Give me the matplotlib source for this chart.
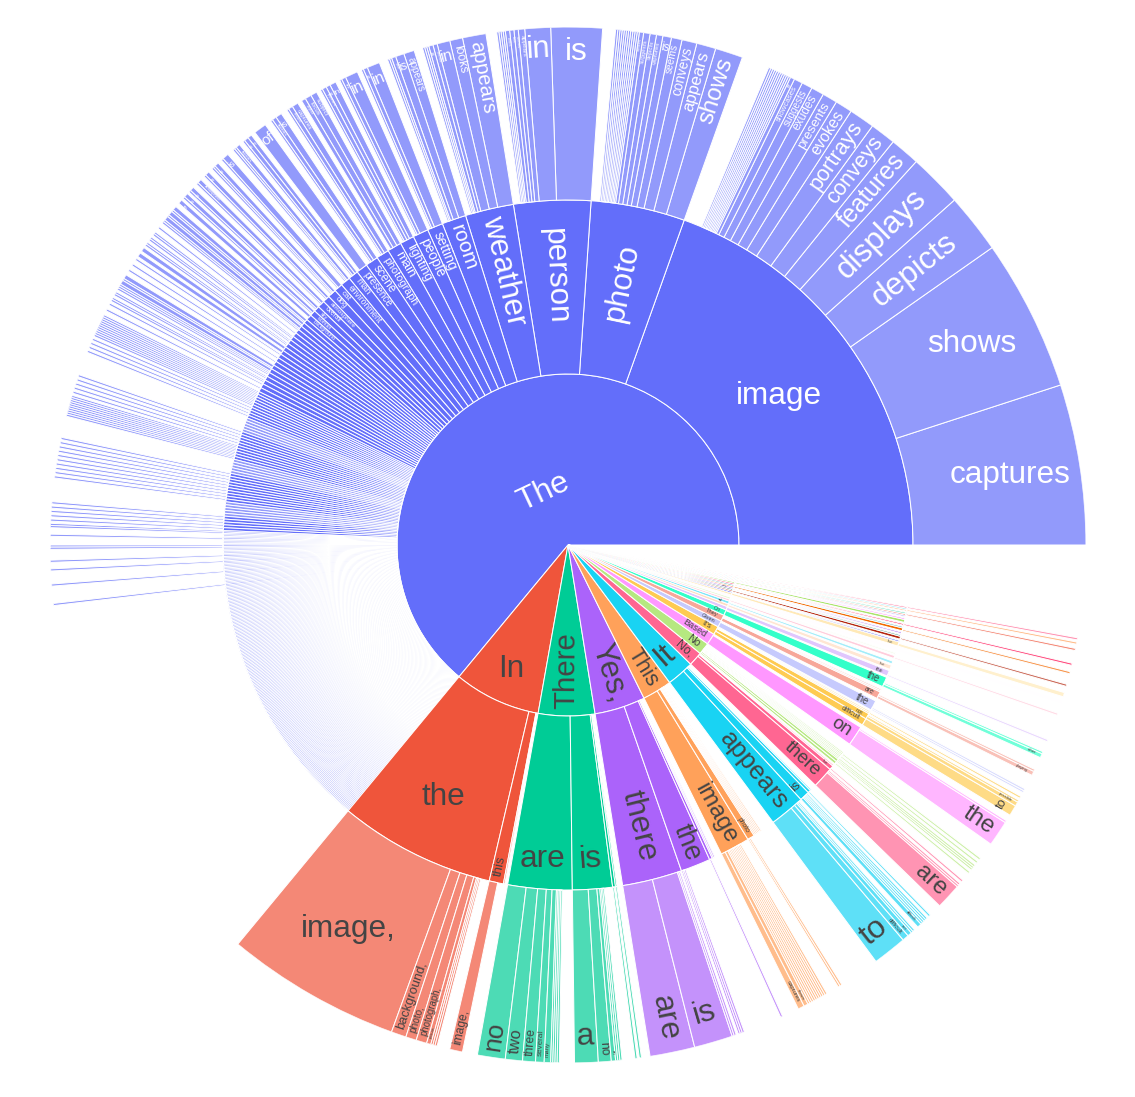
"""Sunburst of the first three words of generated image descriptions."""

import colorsys

import matplotlib
matplotlib.use("Agg")
import matplotlib.pyplot as plt
import numpy as np
from matplotlib.colors import to_rgb
from matplotlib.font_manager import FontProperties
from matplotlib.textpath import text_to_path

# ---------------------------------------------------------------- data
TOTAL = 1500  # all answers (the unlabelled rest is the empty wedge)

root_labels = ["The", "In", "There", "Yes,", "This", "It", "No,", "No",
               "Based", "It's", "Given", "They", "On"]
root_vals = [960, 123, 80, 72, 42, 39, 20, 17, 16, 12, 9, 9, 8]

tiny_root_labels = ["As", "Sure,", "A", "Unfortunately,", "From", "Looking",
                    "Due", "Judging", "While", "Although", "Without", "I",
                    "To", "Currently,", "At", "According", "We", "You",
                    "Upon", "Considering", "Observing", "Examining", "Two",
                    "Several"]
tiny_root_vals = [5, 4, 4, 3, 3, 3, 3, 2, 2, 2, 2, 2, 2, 2, 2,
                  1, 1, 1, 1, 1, 1, 1, 1, 1]
tiny_root_kid_vals = [4, 3, 2, 2, 1, 2, 3, 1, 2, 1, 1, 2, 1, 1, 2,
                      1, 0, 1, 1, 1, 0, 1, 1, 1]
tiny_root_grandkid_vals = [1, 0, 0, 1, 0, 1, 2, 0, 1, 0, 0, 1, 0, 1, 0,
                           0, 0, 0, 1, 0, 0, 1, 0, 1]

# "The ..." second words
the_w2 = ["image", "photo", "person", "weather", "room", "setting", "people",
          "lighting", "main", "photograph", "scene", "presence", "man",
          "environment", "cat", "dog", "atmosphere", "overall", "sky",
          "woman", "background"]
the_w2_vals = [293, 66, 54, 34, 17, 11, 11, 10, 10, 9, 9, 8, 7, 7, 6, 6,
               5, 5, 4, 4, 4]

the_image_w3 = ["captures", "shows", "depicts", "displays", "features",
                "conveys", "portrays", "evokes", "presents", "exudes",
                "suggests", "showcases", "is", "gives", "reveals",
                "highlights", "illustrates", "contains", "offers", "provides",
                "seems", "appears", "creates", "includes"]
the_image_w3_vals = [75, 71, 28, 25, 14, 12, 12, 8, 7, 6, 5, 4, 2,
                     1, 1, 1, 1, 1, 1, 1, 1, 1, 1, 1]
the_photo_w3 = ["shows", "appears", "conveys", "seems", "is", "captures",
                "depicts", "suggests", "evokes", "features", "displays",
                "was", "has", "portrays", "presents", "looks", "exudes",
                "reveals", "gives", "showcases"]
the_photo_w3_vals = [13, 9, 7, 5, 4, 3, 3, 3, 2, 1, 1, 1, 1, 1, 1, 1, 1,
                     1, 1, 1]
the_person_w3 = ["is", "in", "appears", "seems", "has", "looks", "wearing",
                 "standing", "sitting", "holding"]
the_person_w3_vals = [24, 12, 3, 2, 2, 2, 1, 1, 1, 1]
the_weather_w3 = ["appears", "looks", "in", "seems", "is", "conditions",
                  "during", "at"]
the_weather_w3_vals = [11, 6, 6, 2, 2, 1, 1, 1]
the_mid_w3 = [["appears", "is", "has", "in", "seems"], ["in", "is", "appears"],
              ["in", "are", "appear"], ["in", "is", "appears", "and"],
              ["subject", "focus", "object"], ["captures", "shows", "is"],
              ["is", "appears", "depicts"], ["of"], ["in", "is", "appears"],
              ["appears", "is", "in"], ["is", "in"], ["is", "in", "appears"],
              ["is", "in"], ["atmosphere", "mood"], ["is", "appears"],
              ["is", "in"], ["of"]]
the_mid_w3_vals = [[5, 4, 2, 1, 1], [6, 2, 1], [6, 2, 1], [3, 2, 2, 1],
                   [3, 3, 2], [3, 2, 1], [3, 2, 1], [6], [2, 2, 1], [2, 1, 1],
                   [3, 1], [2, 1, 1], [2, 1], [2, 1], [2, 1], [2, 1], [2]]
# long tail of rare second words: size, how many, their third-word counts
the_tail_size = [3, 3, 3, 3, 3, 3, 3, 3,
                 2, 2, 2, 2, 2, 2, 2, 2, 2, 2,
                 1, 1, 1, 1, 1, 1, 1, 1, 1, 1, 1, 1, 1, 1]
the_tail_count = [3, 2, 3, 2, 3, 2, 3, 2,
                  5, 5, 5, 5, 5, 5, 5, 5, 5, 5,
                  2, 3, 1, 4, 2, 5, 1, 3, 1, 6, 1, 8, 1, 182]
the_tail_kids = [[2, 1], [1], [1, 1], [2], [1], [2, 1], [1, 1], [1],
                 [1, 1], [1], [], [1], [1, 1], [], [1], [1], [], [1],
                 [1], [], [1], [], [1], [], [1], [], [1], [], [1], [], [1], []]

in_w2 = ["the", "this", "a"]
in_w2_vals = [110, 10, 1]
in_the_w3 = ["image,", "background,", "photo,", "photograph,", "picture,",
             "scene,", "room,", "image"]
in_the_w3_vals = [82, 7, 5, 5, 2, 1, 1, 1]
in_this_w3 = ["image,"]
in_this_w3_vals = [6]

there_w2 = ["are", "is", "was", "appears"]
there_w2_vals = [45, 28, 2, 1]
there_are_w3 = ["no", "two", "three", "several", "many", "four", "multiple",
                "some", "a"]
there_are_w3_vals = [13, 8, 6, 4, 3, 1, 1, 1, 1]
there_is_w3 = ["a", "no", "an", "one", "only", "something"]
there_is_w3_vals = [11, 6, 2, 1, 1, 1]

yes_w2 = ["there", "the", "this", "it", "a"]
yes_w2_vals = [42, 21, 2, 1, 1]
yes_there_w3 = ["are", "is", "appears", "seems"]
yes_there_w3_vals = [21, 18, 1, 1]
yes_the_w3 = ["image", "person", "photo"]
yes_the_w3_vals = [1, 1, 1]

this_w2 = ["image", "photo", "picture", "is", "scene", "photograph",
           "appears", "shows"]
this_w2_vals = [21, 5, 1, 1, 1, 1, 1, 1]
this_image_w3 = ["captures", "shows", "depicts", "is", "features", "appears",
                 "displays", "showcases", "portrays", "conveys", "presents",
                 "has"]
this_image_w3_vals = [3, 2, 1, 1, 1, 1, 1, 1, 1, 1, 1, 1]
this_photo_w3 = ["shows", "captures"]
this_photo_w3_vals = [1, 1]

it_w2 = ["appears", "is", "seems", "looks"]
it_w2_vals = [25, 7, 2, 1]
it_appears_w3 = ["to", "difficult", "not", "that", "like"]
it_appears_w3_vals = [16, 3, 2, 1, 1]
it_is_w3 = ["difficult", "not", "a", "possible", "unclear"]
it_is_w3_vals = [2, 1, 1, 1, 1]

noc_w2 = ["there", "the", "it"]
noc_w2_vals = [15, 3, 1]
noc_there_w3 = ["are", "is", "aren't"]
noc_there_w3_vals = [12, 1, 1]

no_w2 = ["the", "there", "it", "this", "image", "person", "dogs", "cats"]
no_w2_vals = [2, 2, 1, 1, 1, 1, 1, 1]
no_w3 = [["image"], ["are", "is"], ["is"], [], ["is"], [], ["are"], []]
no_w3_vals = [[1], [1, 1], [1], [], [1], [], [1], []]

based_w2, based_w2_vals = ["on"], [14]
based_on_w3, based_on_w3_vals = ["the", "this"], [12, 1]
its_w2 = ["difficult", "not", "hard", "impossible"]
its_w2_vals = [5, 4, 1, 1]
its_w3 = [["to"], ["possible", "clear"], ["to"], []]
its_w3_vals = [[5], [2, 1], [1], []]
given_w2, given_w2_vals = ["the"], [7]
given_the_w3, given_the_w3_vals = ["image", "lack"], [1, 1]
they_w2, they_w2_vals = ["are", "appear", "seem"], [5, 1, 1]
they_are_w3, they_are_w3_vals = ["playing", "sitting"], [2, 1]
on_w2, on_w2_vals = ["the"], [7]
on_the_w3, on_the_w3_vals = ["other", "left"], [2, 1]

# ---------------------------------------------------------------- style
RADII = [0, 171, 345, 518]          # ring edges, px
CENTER = (568, 545)                 # px from top-left
W_PX, H_PX = 1135, 1097
FMAX = 31.5                         # px
TEXT_H = 1.0                        # text box height in em
PAD = 3.0
BASE = ["#636efa", "#EF553B", "#00cc96", "#ab63fa", "#FFA15A",
        "#19d3f3", "#FF6692", "#B6E880", "#FF97FF", "#FECB52"]
FONT = "Liberation Sans"


def shift(c, amt):
    h, l, s = colorsys.rgb_to_hls(*to_rgb(c))
    return colorsys.hls_to_rgb(h, min(1, max(0, l + amt)), s)


PALETTE = ([to_rgb(c) for c in BASE] + [shift(c, 0.2) for c in BASE]
           + [shift(c, -0.2) for c in BASE])


def node(label, value, kids=()):
    return {"label": label, "value": value, "kids": [k for k in kids if k["value"] > 0]}


def leaves(labels, vals):
    return [node(l, v) for l, v in zip(labels, vals)]


def branch(labels, vals, sub):
    return [node(l, v, sub.get(l, [])) for l, v in zip(labels, vals)]


# ---------------------------------------------------------------- tree
the_third = [leaves(the_image_w3, the_image_w3_vals),
             leaves(the_photo_w3, the_photo_w3_vals),
             leaves(the_person_w3, the_person_w3_vals),
             leaves(the_weather_w3, the_weather_w3_vals)]
the_third += [leaves(l, v) for l, v in zip(the_mid_w3, the_mid_w3_vals)]
the_kids = [node(l, v, k) for l, v, k in zip(the_w2, the_w2_vals, the_third)]
for size, count, kids in zip(the_tail_size, the_tail_count, the_tail_kids):
    for _ in range(count):
        the_kids.append(node("", size, [node("", k) for k in kids]))

children = {
    "The": the_kids,
    "In": branch(in_w2, in_w2_vals, {"the": leaves(in_the_w3, in_the_w3_vals),
                                     "this": leaves(in_this_w3, in_this_w3_vals)}),
    "There": branch(there_w2, there_w2_vals,
                    {"are": leaves(there_are_w3, there_are_w3_vals),
                     "is": leaves(there_is_w3, there_is_w3_vals),
                     "was": leaves(["a"], [1]), "appears": leaves(["to"], [1])}),
    "Yes,": branch(yes_w2, yes_w2_vals,
                   {"there": leaves(yes_there_w3, yes_there_w3_vals),
                    "the": leaves(yes_the_w3, yes_the_w3_vals),
                    "this": leaves(["image"], [1])}),
    "This": branch(this_w2, this_w2_vals,
                   {"image": leaves(this_image_w3, this_image_w3_vals),
                    "photo": leaves(this_photo_w3, this_photo_w3_vals)}),
    "It": branch(it_w2, it_w2_vals,
                 {"appears": leaves(it_appears_w3, it_appears_w3_vals),
                  "is": leaves(it_is_w3, it_is_w3_vals),
                  "seems": leaves(["to"], [1])}),
    "No,": branch(noc_w2, noc_w2_vals,
                  {"there": leaves(noc_there_w3, noc_there_w3_vals),
                   "the": leaves(["image"], [1])}),
    "No": [node(l, v, leaves(kl, kv)) for l, v, kl, kv
           in zip(no_w2, no_w2_vals, no_w3, no_w3_vals)],
    "Based": branch(based_w2, based_w2_vals,
                    {"on": leaves(based_on_w3, based_on_w3_vals)}),
    "It's": [node(l, v, leaves(kl, kv)) for l, v, kl, kv
             in zip(its_w2, its_w2_vals, its_w3, its_w3_vals)],
    "Given": branch(given_w2, given_w2_vals,
                    {"the": leaves(given_the_w3, given_the_w3_vals)}),
    "They": branch(they_w2, they_w2_vals,
                   {"are": leaves(they_are_w3, they_are_w3_vals)}),
    "On": branch(on_w2, on_w2_vals, {"the": leaves(on_the_w3, on_the_w3_vals)}),
}

roots = [node(l, v, children.get(l, [])) for l, v in zip(root_labels, root_vals)]
for l, v, k, g in zip(tiny_root_labels, tiny_root_vals, tiny_root_kid_vals,
                      tiny_root_grandkid_vals):
    roots.append(node(l, v, [node("the", k, [node("", g)])]))

# ---------------------------------------------------------------- layout
UNIT = 2 * np.pi / TOTAL
slices = []


def place(nodes, t0, depth, color):
    t = t0
    for n in sorted(nodes, key=lambda n: -n["value"]):
        dt = n["value"] * UNIT
        slices.append((depth, t, t + dt, n["label"], color, not n["kids"]))
        place(n["kids"], t, depth + 1, color)
        t += dt


t = 0.0
for i, r in enumerate(sorted(roots, key=lambda n: -n["value"])):
    c = PALETTE[i % len(PALETTE)]
    dt = r["value"] * UNIT
    slices.append((0, t, t + dt, r["label"], c, not r["kids"]))
    place(r["kids"], t, 1, c)
    t += dt

# ---------------------------------------------------------------- text fit
FP = FontProperties(family=FONT, size=100)


def text_em(s):
    w, _, _ = text_to_path.get_text_width_height_descent(s, FP, ismath=False)
    return w / 100.0


def max_half(a, half, r, ring):
    q = a + 1 / (2 * np.tan(half))
    return r * min(1 / (np.sqrt(q * q + 0.5) + q),
                   ring / (np.sqrt(a * a + ring / 2) + a))


def norm(deg):
    return (deg + 90) % 180 - 90


def fit(label, r0, r1, t0, t1):
    w, h = text_em(label) * FMAX, TEXT_H * FMAX
    half, mid = (t1 - t0) / 2, (t0 + t1) / 2
    ring = (r1 - r0) / r1
    big_pie = r0 == 0 and half > np.pi / 2
    cands = []
    if not big_pie:
        rins = max(0.0, min(1 / (1 + 1 / np.sin(half)), ring / 2))
        sc = rins * r1 * 2 / np.hypot(w, h)
        hor = (sc, (1 - rins) * r1, 0.0)
        if sc >= 1:
            return hor
        cands.append(hor)
    rp = max(0.0, r1 - 2 * PAD)
    a = w / h
    s = max_half(a, half, rp, ring)
    b = s / rp
    cands.append((2 * s / h, (np.sqrt(1 - b * b) - a * b) * rp, norm(np.degrees(mid))))
    a = h / w
    s = max_half(a, half, rp, ring)
    b = s / rp
    tang = (2 * s / w, (np.sqrt(1 - b * b) - a * b) * rp, norm(np.degrees(mid) - 90))
    if big_pie:
        return tang
    cands.append(tang)
    return max(cands, key=lambda c: c[0])


def text_color(c):
    r, g, b = [v * 255 for v in c]
    return "#444444" if (r * 299 + g * 587 + b * 114) / 1000 >= 128 else "white"


# ---------------------------------------------------------------- draw
fig = plt.figure(figsize=(W_PX / 100, H_PX / 100), dpi=100)
R = RADII[-1]
ax = fig.add_axes([(CENTER[0] - R) / W_PX, (H_PX - CENTER[1] - R) / H_PX,
                   2 * R / W_PX, 2 * R / H_PX], projection="polar")
ax.set_ylim(0, R)
ax.axis("off")

thetas, widths, bottoms, heights, colors = [], [], [], [], []
for depth, t0, t1, label, c, leaf in slices:
    thetas.append(t0)
    widths.append(t1 - t0)
    bottoms.append(RADII[depth])
    heights.append(RADII[depth + 1] - RADII[depth])
    col = tuple(0.7 * v + 0.3 for v in c) if leaf else c
    colors.append(col)
ax.bar(thetas, heights, width=widths, bottom=bottoms, align="edge",
       color=colors, edgecolor="white", linewidth=0.72)

for depth, t0, t1, label, c, leaf in slices:
    if not label:
        continue
    r0, r1 = RADII[depth], RADII[depth + 1]
    sc, rc, rot = fit(label, r0, r1, t0, t1)
    fpx = FMAX * min(1.0, sc)
    if fpx < 4:
        continue
    ax.text((t0 + t1) / 2, rc, label, rotation=rot, rotation_mode="anchor",
            ha="center", va="center", fontsize=fpx * 0.72, family=FONT,
            color=text_color(c))

fig.savefig("out.png", dpi=100)
